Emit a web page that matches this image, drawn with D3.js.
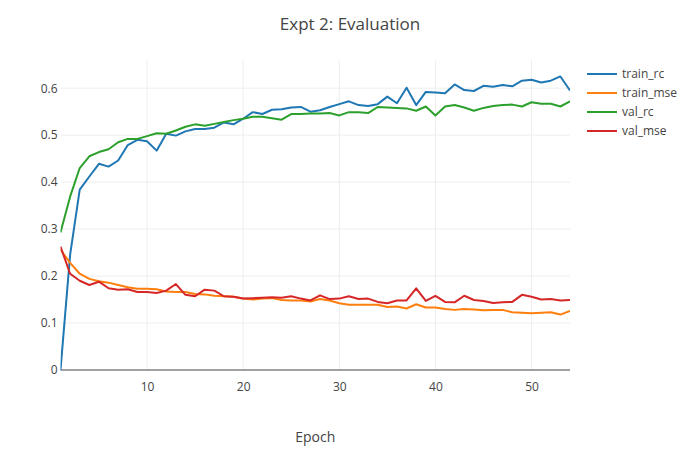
<!DOCTYPE html>
<html>
<head>
<meta charset="utf-8">
<script src="https://cdn.jsdelivr.net/npm/d3@7"></script>
<style>
	body { margin: 0; background: #fff; }
	text { font-family: "Open Sans", "DejaVu Sans", sans-serif; fill: #444; }
</style>
</head>
<body>
<div id="chart"></div>
<script>
// data
var epochs = d3.range(1, 55);
var seriesNames = ["train_rc", "train_mse", "val_rc", "val_mse"];
var seriesColors = ["#1f77b4", "#ff7f0e", "#2ca02c", "#d62728"];
var xTicks = [10, 20, 30, 40, 50];
var yTicks = [0, 0.1, 0.2, 0.3, 0.4, 0.5, 0.6];

var trainRc = [0, 0.245, 0.384, 0.412, 0.439, 0.433, 0.446, 0.479, 0.490, 0.487,
	0.467, 0.503, 0.499, 0.508, 0.513, 0.513, 0.516, 0.527, 0.523, 0.535,
	0.549, 0.545, 0.554, 0.555, 0.559, 0.560, 0.550, 0.553, 0.560, 0.566,
	0.572, 0.564, 0.562, 0.566, 0.582, 0.568, 0.601, 0.564, 0.592, 0.591,
	0.589, 0.608, 0.596, 0.594, 0.605, 0.603, 0.607, 0.604, 0.616, 0.618,
	0.612, 0.616, 0.625, 0.595];
var trainMse = [0.256, 0.228, 0.205, 0.194, 0.189, 0.186, 0.181, 0.176, 0.173, 0.173,
	0.172, 0.167, 0.166, 0.166, 0.162, 0.161, 0.158, 0.157, 0.156, 0.152,
	0.150, 0.152, 0.153, 0.149, 0.148, 0.148, 0.146, 0.151, 0.148, 0.142,
	0.139, 0.139, 0.139, 0.139, 0.134, 0.135, 0.131, 0.140, 0.133, 0.133,
	0.130, 0.128, 0.130, 0.129, 0.127, 0.128, 0.128, 0.123, 0.122, 0.121,
	0.122, 0.123, 0.118, 0.126];
var valRc = [0.293, 0.369, 0.430, 0.455, 0.464, 0.470, 0.485, 0.492, 0.492, 0.498,
	0.504, 0.503, 0.510, 0.518, 0.523, 0.520, 0.524, 0.528, 0.532, 0.535,
	0.539, 0.539, 0.536, 0.533, 0.545, 0.545, 0.546, 0.546, 0.547, 0.542,
	0.549, 0.549, 0.547, 0.560, 0.559, 0.558, 0.557, 0.552, 0.561, 0.542,
	0.561, 0.564, 0.559, 0.552, 0.558, 0.562, 0.564, 0.565, 0.561, 0.570,
	0.567, 0.567, 0.561, 0.572];
var valMse = [0.263, 0.205, 0.190, 0.181, 0.188, 0.174, 0.171, 0.172, 0.166, 0.166,
	0.164, 0.169, 0.183, 0.160, 0.157, 0.171, 0.169, 0.157, 0.156, 0.152,
	0.153, 0.154, 0.155, 0.154, 0.157, 0.152, 0.148, 0.159, 0.151, 0.152,
	0.157, 0.151, 0.152, 0.145, 0.142, 0.148, 0.148, 0.174, 0.147, 0.158,
	0.145, 0.144, 0.158, 0.149, 0.147, 0.1425, 0.144, 0.145, 0.160, 0.156,
	0.150, 0.151, 0.148, 0.149];

var seriesValues = [trainRc, trainMse, valRc, valMse];

function Chart (targetDomElement) {
	var chartObject = {};
	var width = 700;
	var height = 450;
	var plotLeft = 60.5;
	var plotRight = 570;
	var plotTop = 60;
	var plotBottom = 370;
	var svg;
	var x;
	var y;

	function constructor (targetDomElement) {
		svg = d3.select(targetDomElement)
			.append("svg")
			.attr("width", width)
			.attr("height", height);

		x = d3.scaleLinear().domain([1, 54]).range([plotLeft, plotRight]);
		y = d3.scaleLinear().domain([0, 0.66]).range([plotBottom, plotTop]);

		return chartObject;
	}

	chartObject.render = function () {
		drawGrid();
		drawAxes();
		drawLines();
		drawLegend();
		drawTitles();
	};

	function drawGrid () {
		var grid = svg.append("g");

		grid.selectAll(".xgrid")
			.data(xTicks)
			.enter()
			.append("line")
			.attr("x1", function (d) { return x(d); })
			.attr("x2", function (d) { return x(d); })
			.attr("y1", plotTop)
			.attr("y2", plotBottom)
			.attr("stroke", "#eee")
			.attr("stroke-width", 1);

		grid.selectAll(".ygrid")
			.data(yTicks.filter(function (d) { return d > 0; }))
			.enter()
			.append("line")
			.attr("x1", plotLeft)
			.attr("x2", plotRight)
			.attr("y1", function (d) { return y(d); })
			.attr("y2", function (d) { return y(d); })
			.attr("stroke", "#eee")
			.attr("stroke-width", 1);
	}

	function drawAxes () {
		var xAxis = d3.axisBottom(x)
			.tickValues(xTicks)
			.tickSize(0)
			.tickPadding(12);
		var gx = svg.append("g")
			.attr("transform", "translate(0," + plotBottom + ")")
			.call(xAxis);
		gx.select(".domain").remove();
		gx.selectAll("text")
			.style("font-size", "12px")
			.attr("fill", "#444");

		var yAxis = d3.axisLeft(y)
			.tickValues(yTicks)
			.tickFormat(function (d) { return d === 0 ? "0" : d3.format(".1f")(d); })
			.tickSize(0)
			.tickPadding(3);
		var gy = svg.append("g")
			.attr("transform", "translate(" + plotLeft + ",0)")
			.call(yAxis);
		gy.select(".domain").remove();
		gy.selectAll("text")
			.style("font-size", "12px")
			.attr("fill", "#444");

		// zero line
		svg.append("line")
			.attr("x1", plotLeft)
			.attr("x2", plotRight)
			.attr("y1", y(0))
			.attr("y2", y(0))
			.attr("stroke", "#444")
			.attr("stroke-width", 1);
	}

	function drawLines () {
		var line = d3.line()
			.x(function (d, i) { return x(epochs[i]); })
			.y(function (d) { return y(d); });

		svg.append("defs")
			.append("clipPath")
			.attr("id", "plotclip")
			.append("rect")
			.attr("x", plotLeft)
			.attr("y", plotTop)
			.attr("width", plotRight - plotLeft)
			.attr("height", plotBottom - plotTop);

		svg.append("g")
			.attr("clip-path", "url(#plotclip)")
			.selectAll("path")
			.data(seriesValues)
			.enter()
			.append("path")
			.attr("d", function (d) { return line(d); })
			.attr("fill", "none")
			.attr("stroke", function (d, i) { return seriesColors[i]; })
			.attr("stroke-width", 2)
			.attr("stroke-linejoin", "round");
	}

	function drawLegend () {
		var items = svg.append("g")
			.selectAll("g")
			.data(seriesNames)
			.enter()
			.append("g")
			.attr("transform", function (d, i) { return "translate(587," + (74 + i * 19) + ")"; });

		items.append("line")
			.attr("x1", 0)
			.attr("x2", 30)
			.attr("stroke", function (d, i) { return seriesColors[i]; })
			.attr("stroke-width", 2);

		items.append("text")
			.attr("x", 35)
			.attr("dy", "0.35em")
			.style("font-size", "12px")
			.text(function (d) { return d; });
	}

	function drawTitles () {
		svg.append("text")
			.attr("x", width / 2)
			.attr("y", 30)
			.attr("text-anchor", "middle")
			.style("font-size", "17px")
			.text("Expt 2: Evaluation");

		svg.append("text")
			.attr("x", (plotLeft + plotRight) / 2)
			.attr("y", 442)
			.attr("text-anchor", "middle")
			.style("font-size", "14px")
			.text("Epoch");
	}

	return constructor(targetDomElement);
}

var chart = Chart(document.getElementById("chart"));
chart.render();
</script>
</body>
</html>
